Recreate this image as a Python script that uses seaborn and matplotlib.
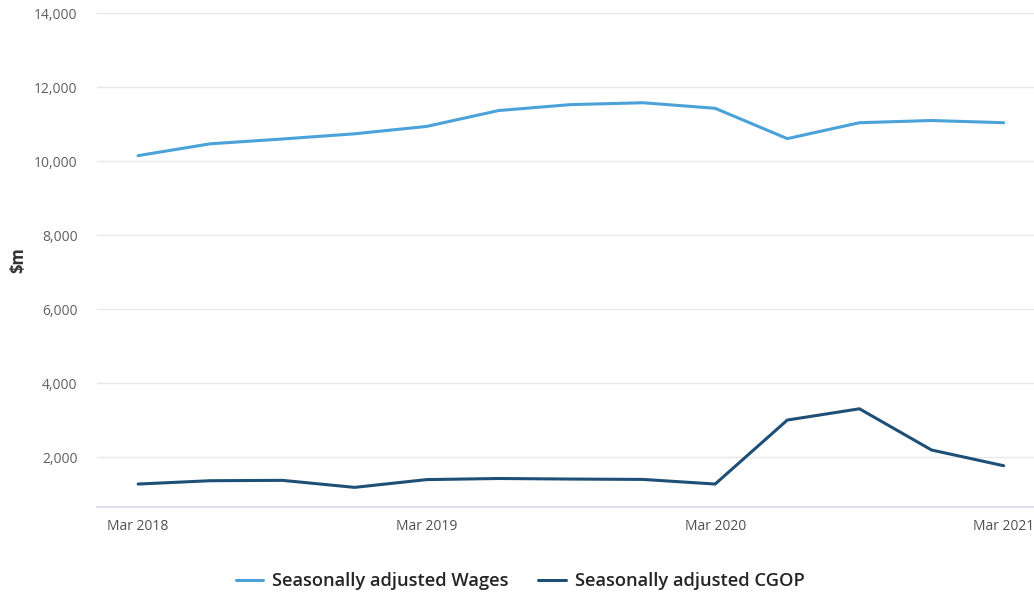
import matplotlib
matplotlib.use("Agg")
import matplotlib.pyplot as plt
import seaborn as sns
import pandas as pd

quarters = ["Mar 2018", "Jun 2018", "Sep 2018", "Dec 2018",
            "Mar 2019", "Jun 2019", "Sep 2019", "Dec 2019",
            "Mar 2020", "Jun 2020", "Sep 2020", "Dec 2020", "Mar 2021"]
wages = [10150, 10470, 10600, 10740, 10940, 11370, 11530, 11580,
         11430, 10610, 11040, 11100, 11040]
cgop = [1270, 1360, 1370, 1180, 1390, 1420, 1405, 1395,
        1270, 3000, 3305, 2190, 1765]
series_names = ["Seasonally adjusted Wages", "Seasonally adjusted CGOP"]
tick_labels = ["Mar 2018", "Mar 2019", "Mar 2020", "Mar 2021"]
y_ticks = [2000, 4000, 6000, 8000, 10000, 12000, 14000]

df = pd.DataFrame({
    "idx": list(range(len(quarters))) * 2,
    "quarter": quarters * 2,
    "value": wages + cgop,
    "series": [series_names[0]] * len(quarters) + [series_names[1]] * len(quarters),
})

sns.set_theme(style="white")
plt.rcParams["font.family"] = ["Open Sans", "DejaVu Sans"]

fig = plt.figure(figsize=(10.34, 5.97), dpi=100)
ax = fig.add_axes([0.0938, 0.1508, 0.9062, 0.827])

palette = {series_names[0]: "#4AA2D9", series_names[1]: "#1E5077"}
sns.lineplot(data=df, x="idx", y="value", hue="series", palette=palette,
             linewidth=2.2, ax=ax, legend=False)

ax.set_xlim(-0.57, 12.42)
ax.set_ylim(650, 14000)
ax.set_yticks(y_ticks)
ax.set_yticklabels([f"{v:,}" for v in y_ticks])
ax.set_xticks([quarters.index(t) for t in tick_labels])
ax.set_xticklabels(tick_labels)

ax.yaxis.grid(True, color="#E8E8E8", linewidth=1)
ax.set_axisbelow(True)
for side in ["top", "right", "left"]:
    ax.spines[side].set_visible(False)
ax.spines["bottom"].set_color("#D5DCE8")
ax.spines["bottom"].set_linewidth(1.2)

ax.tick_params(axis="y", length=0, pad=14, labelsize=10, labelcolor="#606060")
ax.tick_params(axis="x", length=0, pad=9, labelsize=10, labelcolor="#505050")

ax.set_xlabel("")
ax.set_ylabel("$m", fontsize=12, fontweight="bold", color="#333333")
ax.yaxis.set_label_coords(-0.074, 0.5)

handles = [plt.Line2D([0], [0], color=palette[n], linewidth=2.2) for n in series_names]
fig.legend(handles, series_names, loc="center", bbox_to_anchor=(0.503, 0.026),
           ncol=2, frameon=False, handlelength=1.5, handletextpad=0.5,
           columnspacing=1.6, prop={"size": 13.2, "weight": "semibold"},
           labelcolor="#252525")

fig.savefig("out.png", dpi=100)
